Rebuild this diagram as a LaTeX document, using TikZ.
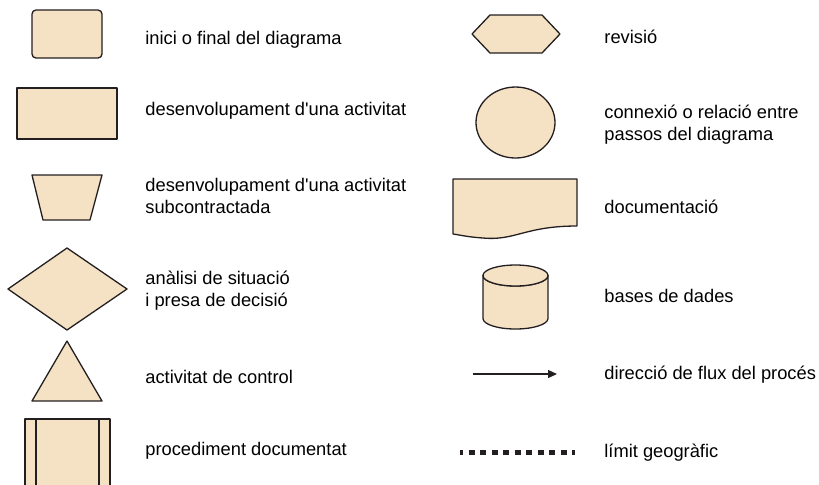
\documentclass[tikz,border=0pt]{standalone}
\usepackage{fontspec}
\setmainfont{Liberation Sans}
\usetikzlibrary{arrows.meta}
\definecolor{sand}{RGB}{245,225,195}
\definecolor{ink}{RGB}{35,31,32}

\begin{document}
\begin{tikzpicture}[
    x=0.5pt, y=-0.5pt,
    sym/.style={
      draw=ink, fill=sand,
      line width=0.65pt, line join=round
    },
    lbl/.style={
      anchor=base west, align=left, inner sep=0pt,
      font=\fontsize{9.15}{11}\selectfont
    }
  ]
  \useasboundingbox (0,0) rectangle (819,484);

  % left column
  \draw[sym, rounded corners=2pt] (32,10) rectangle (102,58);
  \draw[sym] (17,88) rectangle (117,139);
  \draw[sym] (32,175) -- (102,175) -- (90,220) -- (43,220) -- cycle;
  \draw[sym] (67,248) -- (127,289) -- (67,330) -- (8,289) -- cycle;
  \draw[sym] (67,341) -- (102,401) -- (32,401) -- cycle;
  \draw[sym] (25,419) rectangle (110,490);
  \draw[ink, line width=0.65pt] (36,419) -- (36,490) (99,419) -- (99,490);

  % base of a two-line label is its last line
  \node[lbl] (start) at (145,44) {inici o final del diagrama};
  \node[lbl] (activity) at (145,115) {desenvolupament d\textquotesingle una activitat};
  \node[lbl] (subcontract) at (145,213) {desenvolupament d\textquotesingle una activitat\\subcontractada};
  \node[lbl] (decision) at (145,306) {anàlisi de situació\\i presa de decisió};
  \node[lbl] (control) at (145,383) {activitat de control};
  \node[lbl] (procedure) at (145,455) {procediment documentat};

  % right column
  \draw[sym] (472,34) -- (490,15) -- (542,15) -- (560,34) -- (542,53) -- (490,53) -- cycle;
  \draw[sym] (515.5,122.5) ellipse [x radius=39.5, y radius=35.5];
  \draw[sym] (453,179) -- (577,179) -- (577,226)
    .. controls (525,226) and (515,241) .. (483,238)
    .. controls (468,237) and (460,235) .. (453,234) -- cycle;
  \draw[sym] (483,275.5) -- (483,318.5)
    arc[start angle=180, end angle=0, x radius=32.5, y radius=10.5]
    -- (548,275.5)
    arc[start angle=0, end angle=180, x radius=32.5, y radius=10.5] -- cycle;
  \draw[sym] (515.5,275.5) ellipse [x radius=32.5, y radius=10.5];

  \coordinate (flowa) at (473,374);
  \coordinate (flowb) at (557,374);
  \draw[ink, line width=0.65pt, -{Triangle[length=4.5pt, width=4pt]}] (flowa) -- (flowb);

  \coordinate (borda) at (460,452);
  \coordinate (bordb) at (575,452);
  \draw[ink, line width=2.5pt, dash pattern=on 3pt off 2.75pt, dash phase=1.5pt] (borda) -- (bordb);

  \node[lbl] (review) at (604,43) {revisió};
  \node[lbl] (connector) at (604,140) {connexió o relació entre\\passos del diagrama};
  \node[lbl] (docs) at (604,213) {documentació};
  \node[lbl] (database) at (604,302) {bases de dades};
  \node[lbl] (flow) at (604,379) {direcció de flux del procés};
  \node[lbl] (border) at (604,457) {límit geogràfic};
\end{tikzpicture}
\end{document}
